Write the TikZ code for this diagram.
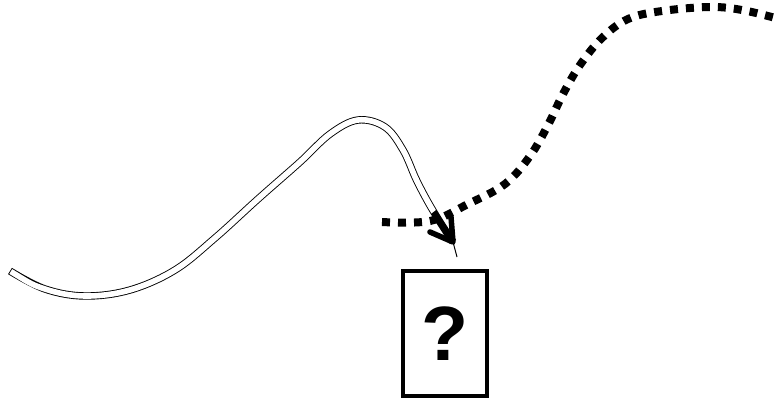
\documentclass[tikz,border=0pt]{standalone}
\usepackage{fontspec}
\setmainfont{Liberation Sans}
\begin{document}
\begin{tikzpicture}[x=1pt,y=-1pt,
  qbox/.style={draw, line width=4.5pt, minimum width=84pt, minimum height=125pt, inner sep=0pt,
    font=\fontsize{77}{80}\selectfont\bfseries},
  outerline/.style={draw, line width=7.4pt, line cap=butt},
  innerline/.style={draw=white, line width=5.6pt, line cap=butt},
  dotpath/.style={draw, line width=8pt, dash pattern=on 8pt off 8pt, line cap=butt},
  tipstyle/.style={draw, line width=5.5pt, line cap=round, line join=round}]
\useasboundingbox (0,0) rectangle (778,400);
\clip (0,0) rectangle (778,400);
\node[qbox] (q) at (445,333.5) {?};
\coordinate (s) at (10,271);
\coordinate (tip) at (453,242);
\coordinate (tend) at (457,257);
\def\curvepts{(s) (45,289) (85,296) (130,290) (175,270) (215,238) (258,199) (300,162) (330,134) (358,120) (385,127) (403,150) (416,179) (428,202) (440,222) (tip)}
% double curve: outer black stroke
\draw[outerline] plot[smooth, tension=0.6] coordinates {\curvepts};
% inner white stroke, stopping before the arrow tip
\begin{scope}
  \clip (-108,633) -- (972,-207) -- (342,-1017) -- (-738,-177) -- cycle;
  \draw[innerline, shorten <=0.9pt] plot[smooth, tension=0.6] coordinates {\curvepts};
\end{scope}
% arrow tip
\draw[line width=1pt] (tip) -- (tend);
\draw[tipstyle] (430,232) -- (tip) -- (451,217);
% dotted curve
\coordinate (d) at (382,222);
\draw[dotpath] plot[smooth, tension=0.6] coordinates {(d) (430,221) (468,204) (505,184) (530,156) (548,125) (563,94) (580,65) (602,38) (628,19) (662,11) (712,7) (747,11) (790,22)};
\end{tikzpicture}
\end{document}
